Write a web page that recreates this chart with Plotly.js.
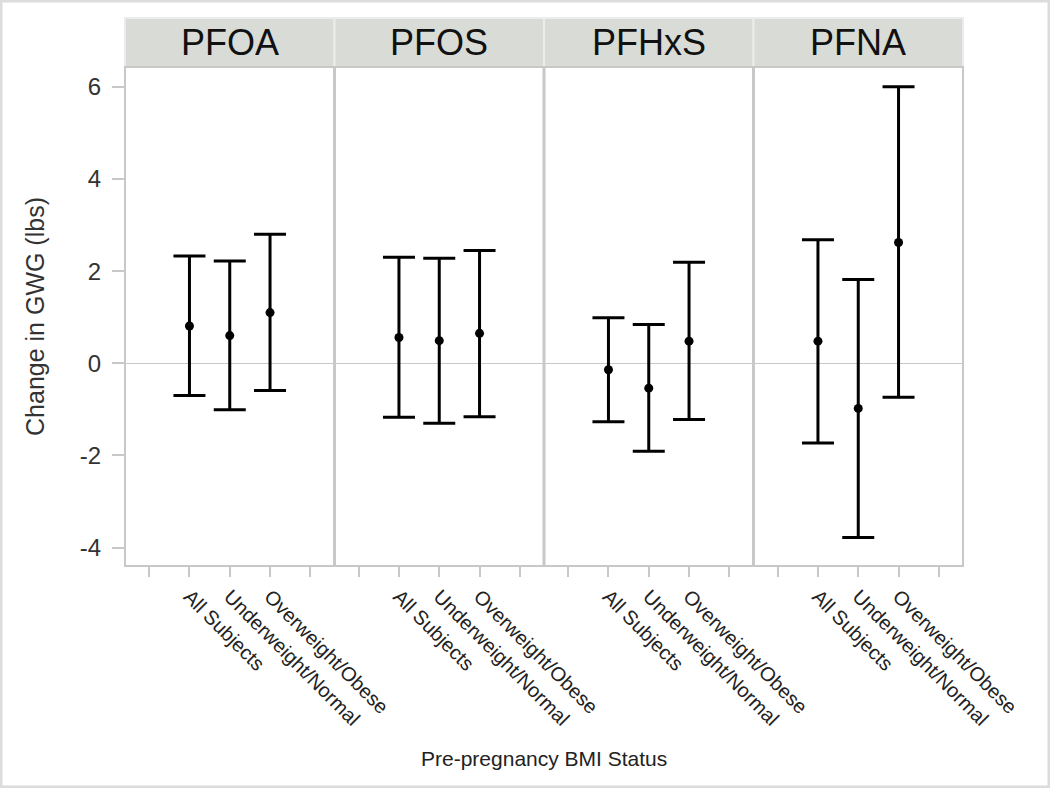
<!DOCTYPE html>
<html>
<head>
<meta charset="utf-8">
<script src="https://cdn.plot.ly/plotly-3.0.1.min.js"></script>
<style>html,body{margin:0;padding:0;background:#fff;}#chart{width:1050px;height:788px;}</style>
</head>
<body>
<div id="chart"></div>
<script>
// ---- data ----
const panels = ["PFOA", "PFOS", "PFHxS", "PFNA"];
const tickLabels = ["", "All Subjects", "Underweight/Normal", "Overweight/Obese", ""];
const groups = ["All Subjects", "Underweight/Normal", "Overweight/Obese"];

const pfoaEst = [0.81, 0.60, 1.10];
const pfoaLow = [-0.70, -1.01, -0.59];
const pfoaHigh = [2.33, 2.22, 2.80];

const pfosEst = [0.56, 0.49, 0.65];
const pfosLow = [-1.17, -1.30, -1.16];
const pfosHigh = [2.30, 2.28, 2.45];

const pfhxsEst = [-0.14, -0.54, 0.48];
const pfhxsLow = [-1.27, -1.91, -1.22];
const pfhxsHigh = [0.99, 0.84, 2.19];

const pfnaEst = [0.48, -0.98, 2.62];
const pfnaLow = [-1.73, -3.78, -0.74];
const pfnaHigh = [2.68, 1.82, 6.00];

const yTicks = [-4, -2, 0, 2, 4, 6];

// ---- build ----
const series = [
  [pfoaEst, pfoaLow, pfoaHigh],
  [pfosEst, pfosLow, pfosHigh],
  [pfhxsEst, pfhxsLow, pfhxsHigh],
  [pfnaEst, pfnaLow, pfnaHigh]
];
const xPos = groups.map(g => tickLabels.indexOf(g));

const FONT = "Liberation Sans, Arial, sans-serif";
const gray = "#c8c8c8";

const traces = series.map((s, i) => ({
  type: "scatter",
  mode: "markers",
  x: xPos,
  y: s[0],
  xaxis: i === 0 ? "x" : "x" + (i + 1),
  yaxis: "y",
  marker: {color: "#000", size: 9},
  error_y: {
    type: "data",
    symmetric: false,
    array: s[2].map((h, k) => h - s[0][k]),
    arrayminus: s[0].map((e, k) => e - s[1][k]),
    color: "#000",
    thickness: 3,
    width: 16
  },
  hoverinfo: "y",
  showlegend: false
}));

const W = 1050, H = 788;
const m = {l: 125, r: 87, t: 67, b: 222};
const pw = W - m.l - m.r, ph = H - m.t - m.b;

const layout = {
  width: W, height: H,
  margin: m,
  paper_bgcolor: "#fff",
  plot_bgcolor: "#fff",
  showlegend: false,
  font: {family: FONT, color: "#222"},
  yaxis: {
    range: [-4.4, 6.43],
    tickvals: yTicks,
    ticktext: yTicks.map(String),
    ticks: "outside", ticklen: 12, tickwidth: 2, tickcolor: gray,
    ticklabelstandoff: 6,
    showgrid: false,
    zeroline: true, zerolinecolor: gray, zerolinewidth: 1.5,
    showline: false,
    tickfont: {size: 24, color: "#333", family: FONT},
    title: {text: "Change in GWG (lbs)", font: {size: 25, color: "#333", family: FONT}, standoff: 28},
    fixedrange: true
  },
  shapes: [],
  annotations: []
};

const strip = 49 / ph;
panels.forEach((p, i) => {
  const key = i === 0 ? "xaxis" : "xaxis" + (i + 1);
  const d0 = i / 4, d1 = (i + 1) / 4;
  layout[key] = {
    domain: [d0, d1],
    anchor: "y",
    range: [-0.6, 4.6],
    tickvals: tickLabels.map((t, k) => k),
    ticktext: tickLabels,
    tickangle: 45,
    ticks: "outside", ticklen: 10, tickwidth: 2, tickcolor: gray,
    showgrid: false, zeroline: false, showline: false,
    tickfont: {size: 20, color: "#222", family: FONT},
    fixedrange: true
  };
  // header strip
  layout.shapes.push({
    type: "rect", xref: "paper", yref: "paper",
    x0: d0, x1: d1, y0: 1, y1: 1 + strip,
    fillcolor: "#d9dcd6", line: {color: "#ececec", width: 2}, layer: "below"
  });
  layout.annotations.push({
    xref: "paper", yref: "paper", x: (d0 + d1) / 2, y: 1 + strip / 2,
    text: p, showarrow: false, xanchor: "center", yanchor: "middle",
    font: {size: 36, color: "#111", family: FONT}
  });
  if (i > 0) {
    layout.shapes.push({
      type: "line", xref: "paper", yref: "paper",
      x0: d0, x1: d0, y0: 0, y1: 1,
      line: {color: gray, width: 3}
    });
  }
});

// plot frame
layout.shapes.push({
  type: "rect", xref: "paper", yref: "paper", x0: 0, x1: 1, y0: 0, y1: 1,
  line: {color: gray, width: 2}, fillcolor: "rgba(0,0,0,0)"
});
// outer image border
layout.shapes.push({
  type: "rect", xref: "paper", yref: "paper",
  x0: -m.l / pw + 1 / pw, x1: 1 + m.r / pw - 1 / pw,
  y0: -m.b / ph + 1 / ph, y1: 1 + m.t / ph - 1 / ph,
  line: {color: "#dcdcdc", width: 3}, fillcolor: "rgba(0,0,0,0)"
});

// x-axis title
layout.annotations.push({
  xref: "paper", yref: "paper", x: 0.5, y: -(758 - (H - m.b)) / ph,
  text: "Pre-pregnancy BMI Status", showarrow: false,
  xanchor: "center", yanchor: "middle",
  font: {size: 21, color: "#222", family: FONT}
});

Plotly.newPlot("chart", traces, layout, {displayModeBar: false, staticPlot: true});
</script>
</body>
</html>
